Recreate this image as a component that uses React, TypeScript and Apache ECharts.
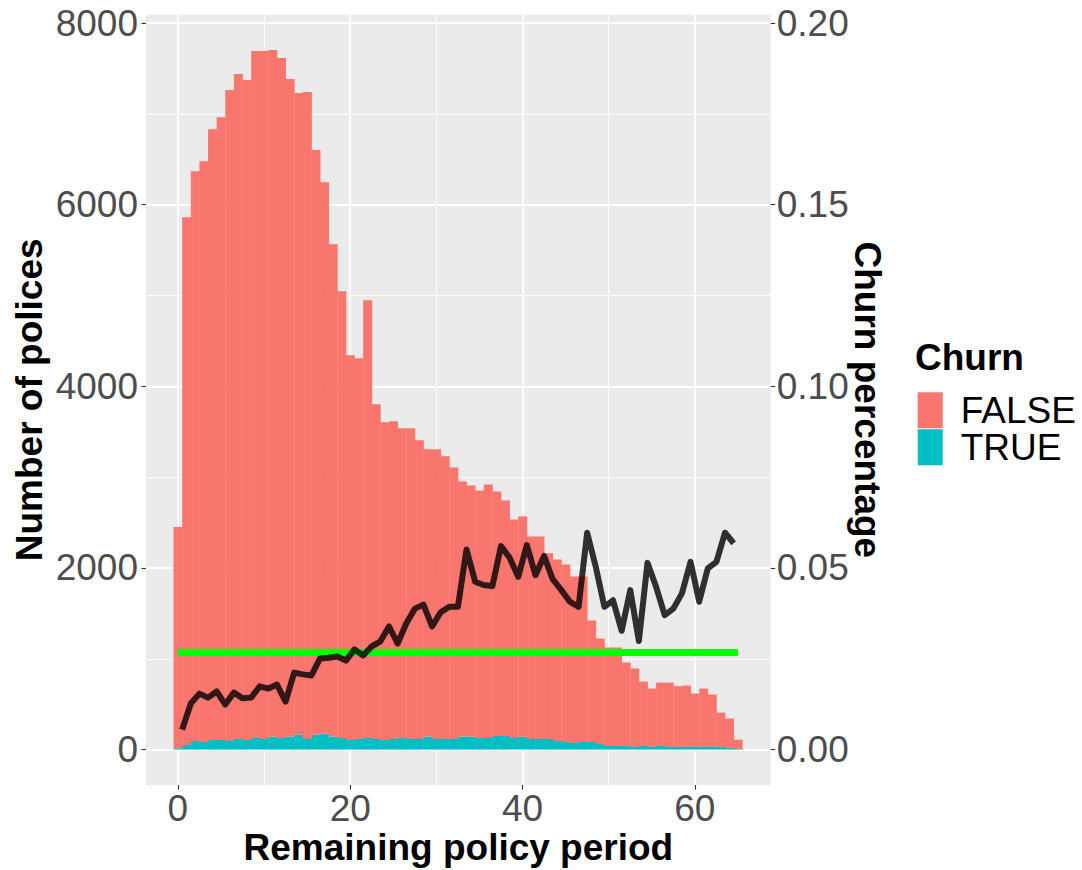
import React, { useEffect, useRef } from "react";
import * as echarts from "echarts";

const periods = [
  0, 1, 2, 3, 4, 5, 6, 7, 8, 9, 10, 11, 12, 13, 14, 15, 16, 17, 18, 19, 20, 21, 22, 23, 24, 25, 26, 27, 28, 29, 30, 31, 32,
  33, 34, 35, 36, 37, 38, 39, 40, 41, 42, 43, 44, 45, 46, 47, 48, 49, 50, 51, 52, 53, 54, 55, 56, 57, 58, 59, 60, 61, 62, 63,
  64, 65,
];
const falseCounts = [
  2435, 5811, 6274, 6395, 6726, 6858, 7167, 7321, 7266, 7563, 7574, 7562, 7486, 7243, 7067, 7123, 6439, 6075, 5425, 4919, 4236,
  4192, 4820, 3685, 3497, 3497, 3409, 3420, 3288, 3166, 3189, 3112, 2990, 2813, 2769, 2726, 2792, 2693, 2594, 2406, 2427, 2230,
  2230, 2046, 1999, 1955, 1833, 1822, 1337, 1161, 1084, 1084, 919, 864, 709, 643, 698, 709, 669, 676, 588, 643, 577, 379, 324,
  103,
];
const trueCounts = [
  15, 51, 95, 84, 106, 106, 95, 117, 106, 128, 117, 140, 128, 140, 162, 117, 162, 173, 140, 128, 106, 117, 128, 117, 106, 117,
  128, 117, 117, 140, 117, 117, 117, 140, 140, 128, 128, 150, 150, 128, 140, 117, 117, 117, 95, 84, 73, 84, 84, 62, 40, 40, 40,
  29, 40, 29, 40, 29, 29, 29, 29, 29, 29, 29, 18, 7,
];
const churnPeriods = [
  0.5, 1.5, 2.5, 3.5, 4.5, 5.5, 6.5, 7.5, 8.5, 9.5, 10.5, 11.5, 12.5, 13.5, 14.5, 15.5, 16.5, 17.5, 18.5, 19.5, 20.5, 21.5,
  22.5, 23.5, 24.5, 25.5, 26.5, 27.5, 28.5, 29.5, 30.5, 31.5, 32.5, 33.5, 34.5, 35.5, 36.5, 37.5, 38.5, 39.5, 40.5, 41.5, 42.5,
  43.5, 44.5, 45.5, 46.5, 47.5, 48.5, 49.5, 50.5, 51.5, 52.5, 53.5, 54.5, 55.5, 56.5, 57.5, 58.5, 59.5, 60.5, 61.5, 62.5, 63.5,
  64.5,
];
const churnRates = [
  0.0055, 0.0127, 0.0154, 0.0143, 0.016, 0.0124, 0.0157, 0.0141, 0.0143, 0.0174, 0.0168, 0.0179, 0.0132, 0.0212, 0.0207,
  0.0204, 0.0251, 0.0253, 0.0256, 0.0245, 0.0276, 0.0259, 0.0284, 0.0298, 0.0339, 0.0292, 0.0347, 0.0388, 0.0399, 0.0339,
  0.0378, 0.0393, 0.0393, 0.0551, 0.0462, 0.0453, 0.045, 0.056, 0.0528, 0.0476, 0.0563, 0.048, 0.0533, 0.0469, 0.0439, 0.0407,
  0.0393, 0.0597, 0.0503, 0.0393, 0.0411, 0.0327, 0.0439, 0.0299, 0.0514, 0.0448, 0.037, 0.0388, 0.043, 0.0517, 0.0407,
  0.0499, 0.0517, 0.0597, 0.0568,
];
const averageChurn = 0.0267;
const averageSpan = [0, 65];

const countTicks = [0, 2000, 4000, 6000, 8000];
const countMinorTicks = [1000, 3000, 5000, 7000];
const churnTicks = [0, 0.05, 0.1, 0.15, 0.2];
const periodTicks = [0, 20, 40, 60];
const periodMinorTicks = [10, 30, 50];
const legendNames = ["FALSE", "TRUE"];

const COUNT_MIN = -390;
const COUNT_MAX = 8092;
const COUNT_PER_CHURN = 40000;
const PERIOD_MIN = -3.7;
const PERIOD_MAX = 68.8;

const FONT = "'Liberation Sans', Arial, Helvetica, sans-serif";
const RED = "#F8766D";
const TEAL = "#00BFC4";

export default function App() {
  const ref = useRef<HTMLDivElement>(null);

  useEffect(() => {
    if (!ref.current) return;
    const chart = echarts.init(ref.current, undefined, { renderer: "svg" });

    const zeros = periods.map(() => 0);
    const stackedTop = periods.map((_, i) => trueCounts[i] + falseCounts[i]);

    const barSeries = (name: string, color: string, lower: number[], upper: number[]) => ({
      type: "custom",
      name,
      xAxisIndex: 0,
      yAxisIndex: 0,
      itemStyle: { color },
      encode: { x: 0, y: [1, 2] },
      silent: true,
      z: 2,
      data: periods.map((p, i) => [p, lower[i], upper[i]]),
      renderItem: (_params: any, api: any) => {
        const x = api.value(0);
        const lo = api.value(1);
        const hi = api.value(2);
        const a = api.coord([x - 0.5, hi]);
        const b = api.coord([x + 0.5, lo]);
        return {
          type: "rect",
          shape: { x: a[0], y: a[1], width: b[0] - a[0] + 0.4, height: b[1] - a[1] },
          style: { fill: color },
        };
      },
    });

    const tickStyle = { show: true, length: 4.5, lineStyle: { color: "#333333", width: 1.1 } };
    const labelStyle = { fontSize: 37, color: "#4D4D4D", fontFamily: FONT };
    const nameStyle = { fontSize: 37, fontWeight: "bold", color: "#000000", fontFamily: FONT };
    const hiddenLine = { show: false, onZero: false };

    chart.setOption({
      animation: false,
      backgroundColor: "#FFFFFF",
      grid: {
        left: 146,
        top: 14.7,
        right: 311.3,
        bottom: 85,
        containLabel: false,
        outerBoundsMode: "none",
        show: true,
        backgroundColor: "#EBEBEB",
        borderWidth: 0,
      },
      legend: {
        data: legendNames,
        orient: "vertical",
        left: 917.7,
        top: 391.7,
        padding: 0,
        itemWidth: 25,
        itemHeight: 36,
        itemGap: 0,
        icon: "rect",
        selectedMode: false,
        textStyle: { fontSize: 37, lineHeight: 36, color: "#000000", fontFamily: FONT, padding: [0, 0, 0, 13] },
      },
      graphic: [
        {
          type: "text",
          x: 915,
          y: 357,
          style: {
            text: "Churn",
            fontSize: 37,
            fontWeight: "bold",
            fontFamily: FONT,
            fill: "#000000",
            align: "left",
            verticalAlign: "middle",
          },
        },
      ],
      xAxis: [
        {
          type: "value",
          position: "bottom",
          min: PERIOD_MIN,
          max: PERIOD_MAX,
          axisLine: hiddenLine,
          axisTick: { ...tickStyle, customValues: periodTicks },
          axisLabel: { ...labelStyle, customValues: periodTicks, margin: 5, formatter: (v: number) => String(v) },
          splitLine: { show: true, lineStyle: { color: "#FFFFFF", width: 1.8 } },
          name: "Remaining policy period",
          nameLocation: "middle",
          nameGap: 43.5,
          nameMoveOverlap: false,
          nameTextStyle: nameStyle,
        },
        {
          type: "value",
          position: "top",
          min: PERIOD_MIN,
          max: PERIOD_MAX,
          axisLine: hiddenLine,
          axisTick: { show: false, customValues: periodMinorTicks },
          axisLabel: { show: false, customValues: periodMinorTicks },
          splitLine: { show: true, lineStyle: { color: "#FFFFFF", width: 0.9 } },
        },
      ],
      yAxis: [
        {
          type: "value",
          position: "left",
          min: COUNT_MIN,
          max: COUNT_MAX,
          axisLine: hiddenLine,
          axisTick: { ...tickStyle, customValues: countTicks },
          axisLabel: { ...labelStyle, customValues: countTicks, margin: 8, formatter: (v: number) => String(v) },
          splitLine: { show: true, lineStyle: { color: "#FFFFFF", width: 1.8 } },
          name: "Number of polices",
          nameLocation: "middle",
          nameGap: 98,
          nameMoveOverlap: false,
          nameTextStyle: nameStyle,
        },
        {
          type: "value",
          position: "right",
          min: COUNT_MIN / COUNT_PER_CHURN,
          max: COUNT_MAX / COUNT_PER_CHURN,
          axisLine: hiddenLine,
          axisTick: { ...tickStyle, customValues: churnTicks },
          axisLabel: {
            ...labelStyle,
            customValues: churnTicks,
            margin: 6,
            formatter: (v: number) => v.toFixed(2),
          },
          splitLine: { show: false },
          name: "Churn percentage",
          nameLocation: "middle",
          nameRotate: -90,
          nameGap: 78,
          nameMoveOverlap: false,
          nameTextStyle: nameStyle,
        },
        {
          type: "value",
          position: "right",
          min: COUNT_MIN,
          max: COUNT_MAX,
          axisLine: hiddenLine,
          axisTick: { show: false, customValues: countMinorTicks },
          axisLabel: { show: false, customValues: countMinorTicks },
          splitLine: { show: true, lineStyle: { color: "#FFFFFF", width: 0.9 } },
        },
      ],
      series: [
        barSeries("TRUE", TEAL, zeros, trueCounts),
        barSeries("FALSE", RED, trueCounts, stackedTop),
        {
          type: "line",
          name: "Average churn",
          xAxisIndex: 0,
          yAxisIndex: 1,
          data: averageSpan.map((p) => [p, averageChurn]),
          symbol: "none",
          silent: true,
          z: 3,
          lineStyle: { color: "#00FF00", width: 7, cap: "butt" },
        },
        {
          type: "line",
          name: "Churn rate",
          xAxisIndex: 0,
          yAxisIndex: 1,
          data: churnPeriods.map((p, i) => [p, churnRates[i]]),
          symbol: "none",
          silent: true,
          z: 4,
          lineStyle: { color: "rgba(0,0,0,0.8)", width: 6, cap: "butt", join: "round" },
        },
      ],
    });

    return () => chart.dispose();
  }, []);

  return <div ref={ref} style={{ position: "absolute", left: 0, top: 0, width: 1082, height: 870 }} />;
}
